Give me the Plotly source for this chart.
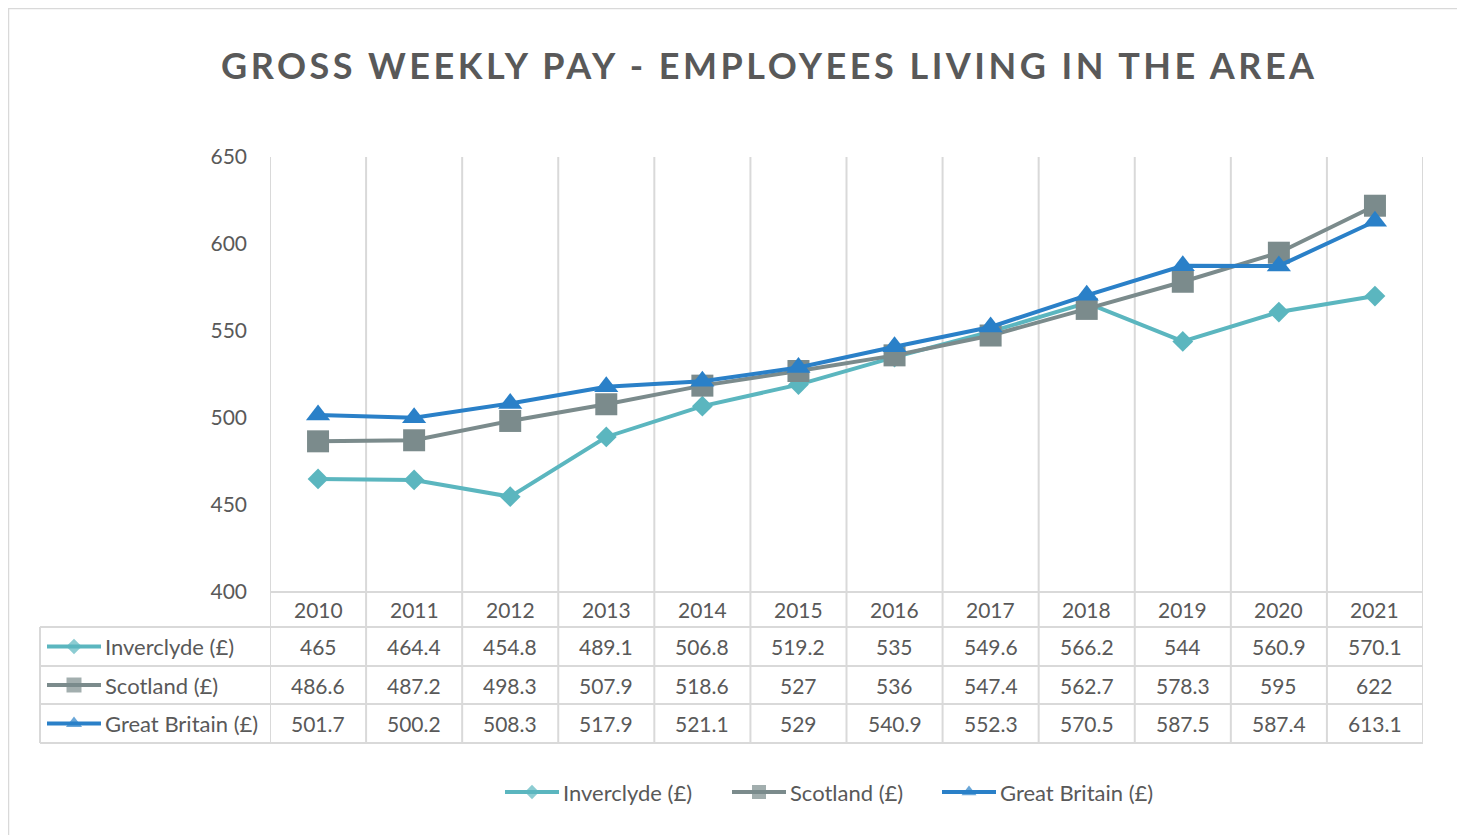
import plotly.graph_objects as go

# ---------------- data ----------------
years = ["2010", "2011", "2012", "2013", "2014", "2015",
         "2016", "2017", "2018", "2019", "2020", "2021"]
series_names = ["Inverclyde (£)", "Scotland (£)", "Great Britain (£)"]
inverclyde = [465, 464.4, 454.8, 489.1, 506.8, 519.2, 535, 549.6, 566.2, 544, 560.9, 570.1]
scotland = [486.6, 487.2, 498.3, 507.9, 518.6, 527, 536, 547.4, 562.7, 578.3, 595, 622]
great_britain = [501.7, 500.2, 508.3, 517.9, 521.1, 529, 540.9, 552.3, 570.5, 587.5, 587.4, 613.1]
y_ticks = [400, 450, 500, 550, 600, 650]
title_text = "GROSS WEEKLY PAY - EMPLOYEES LIVING IN THE AREA"

# ---------------- style ----------------
OFF = 8  # page body margin offset
W, H = 1465 - OFF, 835 - OFF  # figure fits the window exactly
FONT = "Lato"
TXT = "#595959"
GRID = "#D9D9D9"
colors = ["#5BB6BF", "#7B8B8C", "#2A80C8"]
symbols = ["diamond", "square", "triangle-up"]
msizes = [16, 22, 21]
icon_msizes = [12, 15, 14]
all_series = [inverclyde, scotland, great_britain]


def X(v):
    return v - OFF


def Y(v):
    return v - OFF


def PX(v):  # screen pixel x -> paper fraction
    return X(v) / W


def PY(v):  # screen pixel y -> paper fraction
    return 1 - Y(v) / H


PLOT_L, PLOT_R, PLOT_T, PLOT_B = 270, 1423, 157, 592
TABLE_L = 40
row_lines = [592, 627, 666, 704, 743]

fig = go.Figure()

for name, vals, c, s, ms in zip(series_names, all_series, colors, symbols, msizes):
    fig.add_trace(go.Scatter(
        x=years, y=vals, name=name, mode="lines+markers",
        line=dict(color=c, width=4),
        marker=dict(symbol=s, size=ms, color=c, line=dict(width=0)),
        showlegend=False, xaxis="x", yaxis="y", cliponaxis=False,
    ))


def icon(x0, x1, yc, c, s, ms):
    fig.add_trace(go.Scatter(
        x=[X(x0), X((x0 + x1) / 2), X(x1)], y=[Y(yc)] * 3, mode="lines+markers",
        line=dict(color=c, width=4),
        marker=dict(symbol=s, size=[0, ms, 0], color=c, line=dict(width=0)),
        showlegend=False, hoverinfo="skip", xaxis="x2", yaxis="y2",
    ))


def label(x, y, text, size, xanchor="center", xref="paper"):
    annotations.append(dict(x=x, y=y, xref=xref, yref="paper", text=text, showarrow=False,
                            xanchor=xanchor, yanchor="middle",
                            font=dict(family=FONT, size=size, color=TXT)))


shapes = []
annotations = []

# outer chart border
shapes.append(dict(type="rect", xref="paper", yref="paper", x0=PX(8.5), y0=-0.05, x1=1.05, y1=PY(8.5),
                   line=dict(color=GRID, width=1.5), layer="below"))

# vertical grid lines at category boundaries (through the table)
for i in range(len(years) + 1):
    shapes.append(dict(type="line", xref="x", yref="paper", x0=i - 0.5, x1=i - 0.5,
                       y0=PY(PLOT_T), y1=PY(row_lines[-1]), line=dict(color=GRID, width=2), layer="below"))
# horizontal table lines
shapes.append(dict(type="line", xref="paper", yref="paper", x0=PX(PLOT_L), x1=PX(PLOT_R),
                   y0=PY(row_lines[0]), y1=PY(row_lines[0]), line=dict(color=GRID, width=2), layer="below"))
for yl in row_lines[1:]:
    shapes.append(dict(type="line", xref="paper", yref="paper", x0=PX(TABLE_L), x1=PX(PLOT_R),
                       y0=PY(yl), y1=PY(yl), line=dict(color=GRID, width=2), layer="below"))
shapes.append(dict(type="line", xref="paper", yref="paper", x0=PX(TABLE_L), x1=PX(TABLE_L),
                   y0=PY(row_lines[1]), y1=PY(row_lines[-1]), line=dict(color=GRID, width=2), layer="below"))

# year header row
for i, yr in enumerate(years):
    label(i, PY((row_lines[0] + row_lines[1]) / 2), yr, 21, xref="x")

# table data rows
for r, (name, vals, c, s, ims) in enumerate(zip(series_names, all_series, colors, symbols, icon_msizes)):
    yc = (row_lines[r + 1] + row_lines[r + 2]) / 2
    for i, v in enumerate(vals):
        label(i, PY(yc), f"{v:g}", 21, xref="x")
    icon(47, 101, yc, c, s, ims)
    label(PX(103), PY(yc), name, 22, xanchor="left")

# bottom legend
leg_x = [505, 732, 942]
for lx, name, c, s, ims in zip(leg_x, series_names, colors, symbols, icon_msizes):
    icon(lx, lx + 54, 792, c, s, ims - 1)
    label(PX(lx + 56), PY(792), name, 22, xanchor="left")

# title
annotations.append(dict(x=PX(769), y=PY(65), xref="paper", yref="paper", xanchor="center", yanchor="middle",
                        text='<b><span style="letter-spacing:3.5px">' + title_text + '</span></b>',
                        showarrow=False, font=dict(family=FONT, size=36, color=TXT)))

fig.update_layout(
    width=W, height=H,
    margin=dict(l=0, r=0, t=0, b=0, pad=0, autoexpand=False),
    paper_bgcolor="white", plot_bgcolor="rgba(0,0,0,0)",
    xaxis=dict(domain=[PX(PLOT_L), PX(PLOT_R)], type="category", range=[-0.5, len(years) - 0.5],
               showticklabels=False, showgrid=False, zeroline=False, showline=False, ticks="",
               anchor="y", automargin=False),
    yaxis=dict(domain=[PY(PLOT_B), PY(PLOT_T)], range=[y_ticks[0], y_ticks[-1]],
               tickvals=y_ticks, showgrid=False, zeroline=False, showline=False, ticks="",
               ticklabelstandoff=22, tickfont=dict(family=FONT, size=21, color=TXT), anchor="x",
               automargin=False),
    xaxis2=dict(domain=[0, 1], range=[0, W], visible=False, anchor="y2", fixedrange=True, automargin=False),
    yaxis2=dict(domain=[0, 1], range=[H, 0], visible=False, anchor="x2", fixedrange=True, automargin=False),
    shapes=shapes, annotations=annotations,
    showlegend=False,
)

fig.write_html("out.html")
